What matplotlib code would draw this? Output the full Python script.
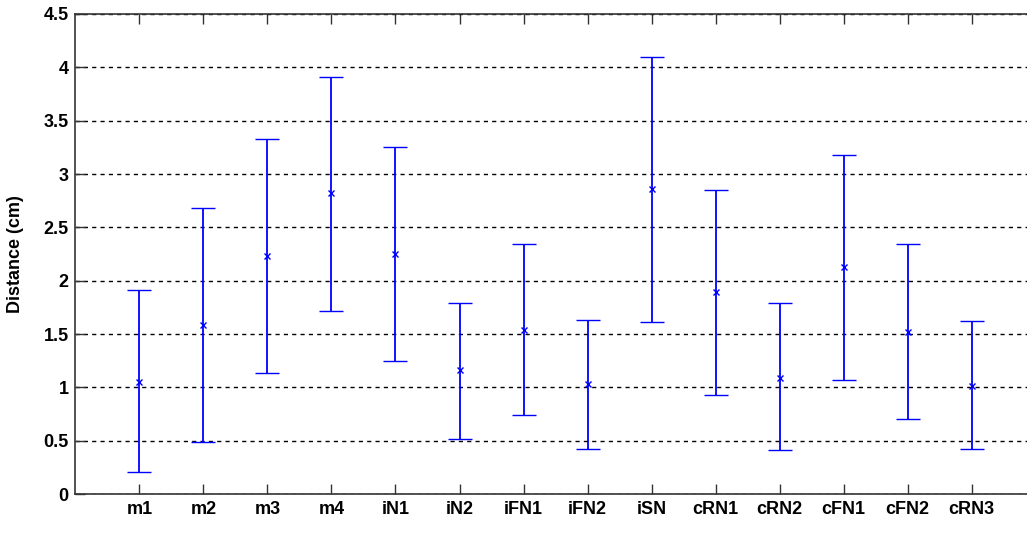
import numpy as np
import matplotlib.pyplot as plt

plt.rcParams['font.family'] = ['Liberation Sans', 'DejaVu Sans']

labels = ['m1', 'm2', 'm3', 'm4', 'iN1', 'iN2', 'iFN1', 'iFN2', 'iSN',
          'cRN1', 'cRN2', 'cFN1', 'cFN2', 'cRN3']
mean = [1.05, 1.59, 2.23, 2.82, 2.25, 1.16, 1.54, 1.03, 2.86,
        1.89, 1.09, 2.13, 1.52, 1.01]
lower = [0.21, 0.49, 1.14, 1.72, 1.25, 0.52, 0.74, 0.42, 1.61,
         0.93, 0.41, 1.07, 0.70, 0.42]
upper = [1.91, 2.68, 3.33, 3.91, 3.25, 1.79, 2.34, 1.63, 4.10,
         2.85, 1.79, 3.18, 2.34, 1.62]

x = np.arange(1, len(labels) + 1)
mean = np.array(mean)
yerr = [mean - np.array(lower), np.array(upper) - mean]

fig = plt.figure(figsize=(10.27, 5.36), dpi=100)
ax = fig.add_axes([0.0735, 0.078, 0.9348, 0.896])

ax.errorbar(x, mean, yerr=yerr, fmt='x', color='#0000ff', ecolor='#0000ff',
            elinewidth=1.3, capsize=8.5, capthick=1.3, markersize=5,
            markeredgewidth=1.0)

ax.set_xlim(0, 15)
ax.set_ylim(0, 4.5)
ax.set_xticks(x)
ax.set_xticklabels(labels)
ax.set_yticks(np.arange(0, 4.51, 0.5))
ax.set_yticklabels(['0', '0.5', '1', '1.5', '2', '2.5', '3', '3.5', '4', '4.5'])

ax.yaxis.grid(True, linestyle=(0, (3, 3)), color='black', linewidth=1.0)
ax.set_axisbelow(True)

ax.tick_params(direction='in', length=7, width=1, color='#333333',
               top=True, labelsize=13, pad=5)
for lab in ax.get_xticklabels() + ax.get_yticklabels():
    lab.set_fontweight('bold')
for sp in ax.spines.values():
    sp.set_color('#333333')
    sp.set_linewidth(1.2)

ax.set_ylabel('Distance (cm)', fontsize=13, fontweight='bold')
ax.yaxis.set_label_coords(-0.054, 0.5)

fig.savefig('out.png', dpi=100)
